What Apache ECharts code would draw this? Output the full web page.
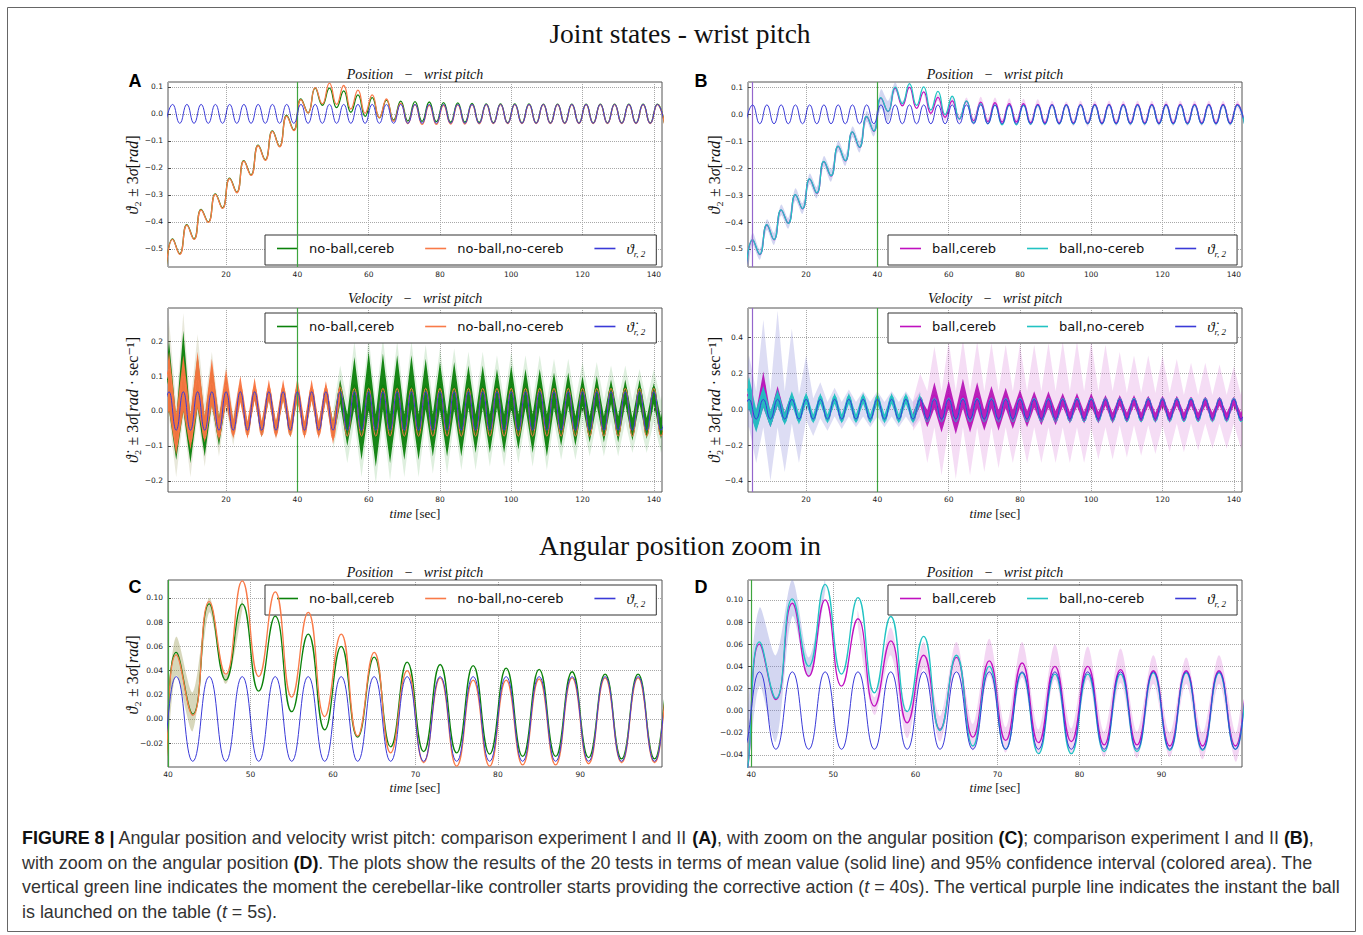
<!DOCTYPE html>
<html>
<head>
<meta charset="utf-8">
<script src="https://cdn.jsdelivr.net/npm/echarts@6/dist/echarts.min.js"></script>
<style>
html, body { margin: 0; padding: 0; background: #fff; }
#fig { width: 1363px; height: 935px; }
</style>
</head>
<body>
<div id="fig"></div>
<script>
// ---------------------------------------------------------------------------
// Joint states of the wrist pitch: mean values and 3-sigma bands.
// Position samples are taken at the extremes of the 4 s reference cycle
// (odd seconds), velocity samples at the velocity extremes (even seconds).
// ---------------------------------------------------------------------------

// event instants [s]
const CEREB_ON = 40;     // cerebellar-like controller switched on
const BALL_LAUNCH = 5;   // ball launched on the table

const REF_POS_NAME = '\u03D1r,2';
const REF_VEL_NAME = '\u03D1\u0307r,2';

// ---- position [rad] -------------------------------------------------------
const T_POS = [3,5,7,9,11,13,15,17,19,21, 23,25,27,29,31,33,35,37,39,41,
  43,45,47,49,51,53,55,57,59,61, 63,65,67,69,71,73,75,77,79,81,
  83,85,87,89,91,93,95,97,99,101, 103,105,107,109,111,113,115,117,119,121,
  123,125,127,129,131,133,135,137,139,141, 143];

const REF_POS = [
  -0.035,0.035,-0.035,0.035,-0.035,0.035,-0.035,0.035,-0.035,0.035,
  -0.035,0.035,-0.035,0.035,-0.035,0.035,-0.035,0.035,-0.035,0.035,
  -0.035,0.035,-0.035,0.035,-0.035,0.035,-0.035,0.035,-0.035,0.035,
  -0.035,0.035,-0.035,0.035,-0.035,0.035,-0.035,0.035,-0.035,0.035,
  -0.035,0.035,-0.035,0.035,-0.035,0.035,-0.035,0.035,-0.035,0.035,
  -0.035,0.035,-0.035,0.035,-0.035,0.035,-0.035,0.035,-0.035,0.035,
  -0.035,0.035,-0.035,0.035,-0.035,0.035,-0.035,0.035,-0.035,0.035,
  -0.035];

const NB_CEREB_POS = [
  -0.600,-0.463,-0.518,-0.410,-0.463,-0.354,-0.400,-0.296,-0.348,-0.238,
  -0.290,-0.173,-0.226,-0.116,-0.170,-0.063,-0.120,-0.006,-0.060,0.055,
  0.004,0.095,0.032,0.095,0.023,0.085,0.006,0.070,-0.009,0.060,
  -0.015,0.051,-0.023,0.047,-0.027,0.045,-0.028,0.044,-0.029,0.042,
  -0.031,0.041,-0.031,0.039,-0.032,0.037,-0.033,0.037,-0.033,0.037,
  -0.033,0.037,-0.034,0.036,-0.034,0.036,-0.034,0.036,-0.034,0.036,
  -0.034,0.036,-0.034,0.036,-0.034,0.036,-0.034,0.036,-0.034,0.036,
  -0.034];

const NB_NOCEREB_POS = [
  -0.600,-0.465,-0.520,-0.412,-0.465,-0.356,-0.402,-0.298,-0.350,-0.240,
  -0.292,-0.175,-0.228,-0.118,-0.172,-0.065,-0.122,-0.008,-0.062,0.053,
  0.003,0.097,0.037,0.114,0.035,0.105,0.018,0.088,0.002,0.070,
  -0.014,0.055,-0.028,0.040,-0.036,0.034,-0.039,0.032,-0.039,0.032,
  -0.038,0.033,-0.038,0.034,-0.037,0.034,-0.036,0.034,-0.036,0.034,
  -0.036,0.034,-0.036,0.034,-0.036,0.034,-0.036,0.034,-0.036,0.034,
  -0.036,0.034,-0.036,0.034,-0.036,0.034,-0.036,0.034,-0.036,0.034,
  -0.036];

const B_CEREB_POS = [
  -0.600,-0.466,-0.521,-0.411,-0.466,-0.356,-0.404,-0.299,-0.351,-0.241,
  -0.293,-0.176,-0.229,-0.119,-0.173,-0.066,-0.123,-0.009,-0.063,0.060,
  0.010,0.097,0.031,0.100,0.022,0.083,0.004,0.063,-0.011,0.050,
  -0.017,0.048,-0.024,0.045,-0.027,0.043,-0.029,0.040,-0.028,0.040,
  -0.031,0.037,-0.031,0.036,-0.032,0.036,-0.032,0.036,-0.032,0.037,
  -0.032,0.037,-0.032,0.037,-0.032,0.037,-0.032,0.037,-0.032,0.037,
  -0.032,0.037,-0.032,0.037,-0.032,0.037,-0.032,0.037,-0.032,0.037,
  -0.032];

const B_NOCEREB_POS = [
  -0.600,-0.465,-0.520,-0.410,-0.465,-0.355,-0.405,-0.298,-0.350,-0.240,
  -0.292,-0.175,-0.228,-0.118,-0.172,-0.065,-0.122,-0.008,-0.062,0.062,
  0.011,0.101,0.040,0.114,0.033,0.102,0.016,0.085,-0.001,0.067,
  -0.018,0.050,-0.032,0.040,-0.035,0.034,-0.039,0.033,-0.039,0.033,
  -0.037,0.033,-0.037,0.034,-0.036,0.034,-0.036,0.034,-0.035,0.034,
  -0.036,0.034,-0.036,0.034,-0.036,0.034,-0.036,0.034,-0.036,0.034,
  -0.036,0.034,-0.036,0.034,-0.036,0.034,-0.036,0.034,-0.036,0.034,
  -0.036];

// confidence bands (position)
const T_LAV_POS = [3,5,7,9,11,13,15,17,19,21, 23,25,27,29,31,33,35,37,39,41, 43,45,47,49];
const LAV_POS_LO = [-0.620,-0.485,-0.540,-0.430,-0.485,-0.375,-0.425,-0.320,-0.370,-0.260,
  -0.312,-0.195,-0.250,-0.138,-0.192,-0.085,-0.142,-0.028,-0.082,0.022,
  -0.028,0.085,0.030,0.108];
const LAV_POS_HI = [-0.580,-0.440,-0.500,-0.390,-0.440,-0.335,-0.385,-0.275,-0.330,-0.220,
  -0.270,-0.155,-0.205,-0.098,-0.150,-0.045,-0.100,0.012,-0.040,0.093,
  0.050,0.118,0.048,0.120];

const T_PINK_POS = [53,55,57,59,61,63,65,67,69,71, 73,75,77,79,81,83,85,87,89,91,
  93,95,97,99,101,103,105,107,109,111, 113,115,117,119,121,123,125,127,129,131,
  133,135,137,139,141,143];
const PINK_POS_HI = [0.090,0.012,0.075,0.000,0.062,-0.005,0.062,-0.012,0.065,-0.015,
  0.062,-0.017,0.060,-0.016,0.058,-0.019,0.056,-0.019,0.050,-0.020,
  0.048,-0.020,0.050,-0.020,0.050,-0.020,0.050,-0.020,0.050,-0.020,
  0.050,-0.020,0.050,-0.020,0.050,-0.020,0.050,-0.020,0.050,-0.020,
  0.050,-0.020,0.050,-0.020,0.050,-0.020];
const PINK_POS_LO = [0.075,-0.004,0.050,-0.025,0.038,-0.028,0.036,-0.036,0.032,-0.038,
  0.030,-0.040,0.028,-0.040,0.028,-0.042,0.025,-0.043,0.024,-0.042,
  0.024,-0.044,0.024,-0.046,0.024,-0.044,0.024,-0.044,0.024,-0.044,
  0.024,-0.044,0.024,-0.044,0.024,-0.044,0.024,-0.044,0.024,-0.044,
  0.024,-0.044,0.024,-0.044,0.024,-0.044];

const T_OLIVE_POS = [39,41,43,45,47,49];
const OLIVE_POS_LO = [-0.070,0.036,-0.010,0.088,0.029,0.090];
const OLIVE_POS_HI = [-0.050,0.068,0.022,0.100,0.036,0.100];

// ---- velocity [rad/s] -----------------------------------------------------
const T_VEL = [2,4,6,8,10,12,14,16,18,20, 22,24,26,28,30,32,34,36,38,40,
  42,44,46,48,50,52,54,56,58,60, 62,64,66,68,70,72,74,76,78,80,
  82,84,86,88,90,92,94,96,98,100, 102,104,106,108,110,112,114,116,118,120,
  122,124,126,128,130,132,134,136,138,140, 142,144];

const REF_VEL = [
  -0.055,0.055,-0.055,0.055,-0.055,0.055,-0.055,0.055,-0.055,0.055,
  -0.055,0.055,-0.055,0.055,-0.055,0.055,-0.055,0.055,-0.055,0.055,
  -0.055,0.055,-0.055,0.055,-0.055,0.055,-0.055,0.055,-0.055,0.055,
  -0.055,0.055,-0.055,0.055,-0.055,0.055,-0.055,0.055,-0.055,0.055,
  -0.055,0.055,-0.055,0.055,-0.055,0.055,-0.055,0.055,-0.055,0.055,
  -0.055,0.055,-0.055,0.055,-0.055,0.055,-0.055,0.055,-0.055,0.055,
  -0.055,0.055,-0.055,0.055,-0.055,0.055,-0.055,0.055,-0.055,0.055,
  -0.055,0.055];

const NB_CEREB_VEL = [
  -0.040,0.100,-0.090,0.120,-0.100,0.090,-0.080,0.075,-0.070,0.065,
  -0.062,0.060,-0.060,0.060,-0.060,0.060,-0.060,0.060,-0.060,0.060,
  -0.060,0.060,-0.060,0.060,-0.065,0.065,-0.070,0.075,-0.075,0.075,
  -0.075,0.075,-0.075,0.075,-0.075,0.072,-0.072,0.072,-0.072,0.070,
  -0.070,0.070,-0.070,0.070,-0.070,0.070,-0.070,0.070,-0.070,0.070,
  -0.070,0.070,-0.070,0.070,-0.070,0.070,-0.070,0.070,-0.070,0.070,
  -0.070,0.070,-0.070,0.070,-0.070,0.070,-0.070,0.070,-0.070,0.070,
  -0.070,0.070];

const NB_NOCEREB_VEL = [
  -0.050,0.120,-0.100,0.100,-0.090,0.090,-0.080,0.080,-0.075,0.075,
  -0.070,0.070,-0.070,0.068,-0.070,0.068,-0.070,0.068,-0.070,0.068,
  -0.070,0.068,-0.070,0.068,-0.080,0.068,-0.072,0.065,-0.072,0.065,
  -0.072,0.065,-0.072,0.065,-0.072,0.065,-0.072,0.065,-0.072,0.065,
  -0.072,0.065,-0.072,0.065,-0.072,0.065,-0.072,0.065,-0.072,0.065,
  -0.072,0.065,-0.072,0.065,-0.072,0.065,-0.072,0.065,-0.072,0.065,
  -0.072,0.065,-0.072,0.065,-0.072,0.065,-0.072,0.065,-0.072,0.065,
  -0.072,0.065];

const B_CEREB_VEL = [
  -0.040,0.090,-0.090,0.150,-0.080,0.090,-0.070,0.070,-0.065,0.065,
  -0.062,0.062,-0.062,0.062,-0.062,0.062,-0.062,0.062,-0.062,0.062,
  -0.062,0.062,-0.062,0.062,-0.065,0.065,-0.070,0.080,-0.075,0.080,
  -0.075,0.075,-0.072,0.072,-0.070,0.070,-0.070,0.070,-0.070,0.070,
  -0.068,0.068,-0.068,0.068,-0.068,0.068,-0.068,0.068,-0.068,0.068,
  -0.066,0.066,-0.066,0.066,-0.066,0.066,-0.066,0.066,-0.066,0.066,
  -0.065,0.065,-0.065,0.065,-0.065,0.065,-0.065,0.065,-0.065,0.065,
  -0.065,0.065];

const B_NOCEREB_VEL = [
  -0.040,0.120,-0.100,0.100,-0.080,0.085,-0.075,0.075,-0.070,0.075,
  -0.070,0.075,-0.070,0.075,-0.070,0.075,-0.070,0.075,-0.070,0.075,
  -0.070,0.075,-0.070,0.075,-0.070,0.070,-0.070,0.062,-0.070,0.062,
  -0.070,0.062,-0.070,0.062,-0.070,0.062,-0.070,0.062,-0.070,0.062,
  -0.070,0.062,-0.070,0.062,-0.070,0.062,-0.070,0.062,-0.070,0.062,
  -0.070,0.062,-0.070,0.062,-0.070,0.062,-0.070,0.062,-0.070,0.062,
  -0.070,0.062,-0.070,0.062,-0.070,0.062,-0.070,0.062,-0.070,0.062,
  -0.070,0.062];

// confidence bands (velocity)
const GREEN_DARK_VEL_HI = [
  -0.010,0.200,-0.020,0.230,-0.020,0.160,-0.020,0.130,-0.020,0.100,
  -0.030,0.075,-0.035,0.075,-0.035,0.075,-0.035,0.075,-0.035,0.075,
  -0.035,0.075,-0.035,0.075,-0.030,0.090,-0.010,0.155,-0.010,0.170,
  -0.010,0.165,-0.010,0.160,-0.010,0.160,-0.010,0.150,-0.010,0.140,
  -0.010,0.140,-0.010,0.130,-0.010,0.130,-0.010,0.120,-0.010,0.130,
  -0.010,0.120,-0.010,0.120,-0.010,0.110,-0.010,0.110,-0.015,0.100,
  -0.015,0.100,-0.015,0.090,-0.015,0.090,-0.020,0.090,-0.020,0.080,
  -0.020,0.080];
const GREEN_DARK_VEL_LO = [
  -0.050,0.000,-0.140,0.000,-0.150,0.010,-0.130,0.020,-0.100,0.030,
  -0.075,0.035,-0.075,0.035,-0.075,0.035,-0.075,0.035,-0.075,0.035,
  -0.075,0.035,-0.075,0.035,-0.085,0.020,-0.100,0.010,-0.140,0.005,
  -0.160,0.005,-0.150,0.005,-0.140,0.005,-0.140,0.005,-0.130,0.005,
  -0.130,0.005,-0.130,0.010,-0.120,0.010,-0.120,0.010,-0.120,0.010,
  -0.110,0.010,-0.120,0.010,-0.130,0.010,-0.100,0.015,-0.100,0.015,
  -0.090,0.015,-0.090,0.020,-0.090,0.020,-0.085,0.020,-0.080,0.020,
  -0.080,0.020];

const T_VEL_LATE = [50,52,54,56,58,60,62,64,66,68, 70,72,74,76,78,80,82,84,86,88,
  90,92,94,96,98,100,102,104,106,108, 110,112,114,116,118,120,122,124,126,128,
  130,132,134,136,138,140,142,144];
const GREEN_LIGHT_VEL_HI = [
  0.000,0.130,0.030,0.200,0.030,0.210,0.030,0.210,0.030,0.200,
  0.030,0.200,0.030,0.190,0.030,0.180,0.030,0.180,0.030,0.170,
  0.030,0.170,0.030,0.160,0.030,0.170,0.030,0.160,0.030,0.160,
  0.030,0.150,0.030,0.150,0.030,0.140,0.030,0.140,0.030,0.130,
  0.030,0.130,0.030,0.120,0.030,0.120,0.030,0.120];
const GREEN_LIGHT_VEL_LO = [
  -0.110,-0.020,-0.150,-0.030,-0.190,-0.030,-0.210,-0.030,-0.200,-0.030,
  -0.190,-0.030,-0.190,-0.030,-0.180,-0.030,-0.180,-0.030,-0.170,-0.030,
  -0.170,-0.030,-0.160,-0.030,-0.160,-0.030,-0.150,-0.030,-0.160,-0.030,
  -0.170,-0.030,-0.140,-0.030,-0.140,-0.030,-0.130,-0.030,-0.130,-0.030,
  -0.130,-0.030,-0.120,-0.030,-0.120,-0.030,-0.120,-0.030];

const T_VEL_EARLY = [2,4,6,8,10,12,14,16,18,20, 22,24];
const KHAKI_VEL_HI = [0.000,0.260,0.020,0.280,0.020,0.220,0.020,0.170,0.000,0.130,-0.010,0.100];
const KHAKI_VEL_LO = [-0.080,-0.020,-0.190,-0.020,-0.190,-0.010,-0.160,0.000,-0.130,0.010,-0.100,0.020];

const T_VEL_FIRST = [2,4,6,8,10,12,14,16,18,20, 22,24,26,28,30,32,34,36,38,40, 42,44,46,48,50,52];
const ORANGE_VEL_HI = [-0.010,0.170,-0.010,0.160,-0.010,0.170,-0.015,0.150,-0.020,0.120,
  -0.025,0.100,-0.030,0.095,-0.030,0.090,-0.030,0.090,-0.030,0.095,
  -0.030,0.090,-0.030,0.085,-0.030,0.080];
const ORANGE_VEL_LO = [-0.050,0.000,-0.125,0.000,-0.110,0.010,-0.090,0.015,-0.085,0.020,
  -0.080,0.025,-0.080,0.030,-0.075,0.030,-0.080,0.030,-0.075,0.030,
  -0.080,0.030,-0.080,0.030,-0.095,0.030];

const LAV_VEL_HI = [0.050,0.300,0.100,0.500,0.100,0.550,0.100,0.450,0.080,0.300,
  0.060,0.150,0.040,0.120,0.040,0.110,0.040,0.100,0.040,0.100,
  0.040,0.100,0.040,0.100,0.040,0.100];
const LAV_VEL_LO = [-0.100,-0.100,-0.300,-0.100,-0.400,-0.100,-0.350,-0.080,-0.300,-0.060,
  -0.150,-0.050,-0.120,-0.040,-0.110,-0.040,-0.100,-0.040,-0.100,-0.040,
  -0.100,-0.040,-0.100,-0.040,-0.100,-0.040];

const CYAN_VEL_HI = [0.000,0.180,0.000,0.130,-0.010,0.110,-0.020,0.100,-0.025,0.095,
  -0.030,0.090,-0.030,0.090,-0.030,0.090,-0.030,0.090,-0.030,0.090,
  -0.030,0.090,-0.030,0.090,-0.030,0.090];
const CYAN_VEL_LO = [-0.060,0.000,-0.130,0.010,-0.100,0.020,-0.090,0.025,-0.085,0.030,
  -0.080,0.030,-0.080,0.030,-0.080,0.030,-0.080,0.030,-0.080,0.030,
  -0.080,0.030,-0.080,0.030,-0.080,0.030];

const T_MAG_EARLY = [2,4,6,8,10,12,14,16];
const MAG_EARLY_HI = [-0.010,0.120,-0.010,0.210,-0.020,0.130,-0.020,0.090];
const MAG_EARLY_LO = [-0.050,0.000,-0.120,0.010,-0.100,0.020,-0.080,0.030];

const MAG_LATE_HI = [
  -0.020,0.070,-0.005,0.150,-0.005,0.160,-0.005,0.170,-0.005,0.150,
  -0.005,0.130,-0.005,0.120,-0.005,0.110,-0.010,0.100,-0.010,0.100,
  -0.010,0.090,-0.015,0.090,-0.015,0.090,-0.015,0.080,-0.020,0.080,
  -0.020,0.080,-0.020,0.075,-0.020,0.075,-0.020,0.075,-0.020,0.070,
  -0.020,0.070,-0.020,0.070,-0.020,0.065,-0.020,0.065];
const MAG_LATE_LO = [
  -0.070,0.020,-0.100,0.005,-0.130,0.005,-0.140,0.005,-0.130,0.005,
  -0.120,0.005,-0.120,0.005,-0.110,0.010,-0.100,0.010,-0.090,0.010,
  -0.090,0.015,-0.080,0.015,-0.080,0.015,-0.080,0.020,-0.080,0.020,
  -0.075,0.020,-0.075,0.020,-0.075,0.020,-0.075,0.020,-0.070,0.020,
  -0.070,0.020,-0.070,0.020,-0.070,0.020,-0.070,0.020];

const PINK_VEL_HI = [
  0.050,0.200,0.100,0.350,0.100,0.380,0.100,0.390,0.100,0.380,
  0.100,0.370,0.100,0.360,0.100,0.360,0.100,0.360,0.100,0.370,
  0.100,0.380,0.100,0.380,0.100,0.380,0.100,0.360,0.100,0.320,
  0.090,0.300,0.090,0.300,0.090,0.300,0.090,0.280,0.080,0.260,
  0.080,0.260,0.080,0.250,0.080,0.240,0.080,0.240];
const PINK_VEL_LO = [
  -0.120,-0.060,-0.300,-0.100,-0.370,-0.100,-0.390,-0.100,-0.370,-0.100,
  -0.350,-0.100,-0.330,-0.100,-0.300,-0.100,-0.300,-0.100,-0.300,-0.100,
  -0.300,-0.100,-0.300,-0.100,-0.300,-0.100,-0.280,-0.100,-0.280,-0.090,
  -0.270,-0.090,-0.260,-0.090,-0.250,-0.090,-0.240,-0.080,-0.240,-0.080,
  -0.230,-0.080,-0.220,-0.080,-0.220,-0.080,-0.220,-0.080];

// ---------------------------------------------------------------------------
// styling
const GREEN = '#0b820b';
const ORANGE = '#f97a48';
const BLUE = '#3a3ad8';
const MAGENTA = '#c010c0';
const CYAN = '#22c3c3';
const V_GREEN = '#3ea53e';
const V_PURPLE = '#9466cc';
const FONT_SANS = '"DejaVu Sans", sans-serif';
const FONT_SERIF = '"Liberation Serif", "DejaVu Serif", serif';
const FONT_CAPTION = '"Liberation Sans", Arial, sans-serif';

const zip = (ts, vs) => ts.map((t, i) => [t, vs[i]]);

function lineSeries(g, name, ts, vs, color, width, z) {
  return {
    type: 'line', name, xAxisIndex: g, yAxisIndex: g, data: zip(ts, vs),
    symbol: 'none', showSymbol: false, smooth: true,
    lineStyle: { color, width }, itemStyle: { color }, z, silent: true
  };
}

// Sutherland-Hodgman clipping of a pixel polygon against the plot rectangle
function clipToRect(pts, x0, y0, x1, y1) {
  const lerpX = (a, b, x) => [x, a[1] + (x - a[0]) / (b[0] - a[0]) * (b[1] - a[1])];
  const lerpY = (a, b, y) => [a[0] + (y - a[1]) / (b[1] - a[1]) * (b[0] - a[0]), y];
  const planes = [
    [p => p[0] >= x0, (a, b) => lerpX(a, b, x0)],
    [p => p[0] <= x1, (a, b) => lerpX(a, b, x1)],
    [p => p[1] >= y0, (a, b) => lerpY(a, b, y0)],
    [p => p[1] <= y1, (a, b) => lerpY(a, b, y1)]
  ];
  let out = pts;
  for (const [inside, cut] of planes) {
    const src = out;
    out = [];
    for (let i = 0; i < src.length; i++) {
      const cur = src[i], prev = src[(i + src.length - 1) % src.length];
      if (inside(cur)) {
        if (!inside(prev)) out.push(cut(prev, cur));
        out.push(cur);
      } else if (inside(prev)) {
        out.push(cut(prev, cur));
      }
    }
    if (!out.length) break;
  }
  return out;
}

// shaded band between a lower and an upper curve, drawn as one polygon
function bandSeries(g, ts, lo, hi, color, z, smooth) {
  const rows = ts.map((t, i) => [t, lo[i], hi[i]]);
  return {
    type: 'custom', xAxisIndex: g, yAxisIndex: g, z, silent: true, clip: true,
    data: rows, encode: { x: 0, y: [1, 2] },
    renderItem(params, api) {
      if (params.dataIndex !== 0) return null;
      const cs = params.coordSys;
      const upper = rows.map(r => api.coord([r[0], r[2]]));
      const lower = rows.map(r => api.coord([r[0], r[1]])).reverse();
      const pts = clipToRect(upper.concat(lower), cs.x, cs.y, cs.x + cs.width, cs.y + cs.height);
      if (pts.length < 3) return null;
      return {
        type: 'polygon',
        shape: {
          points: pts, smooth: smooth ? 0.3 : 0,
          smoothConstraint: [[cs.x, cs.y], [cs.x + cs.width, cs.y + cs.height]]
        },
        style: { fill: color, stroke: null }
      };
    }
  };
}

function eventLines(times) {
  return {
    silent: true, symbol: ['none', 'none'], label: { show: false },
    emphasis: { disabled: true },
    data: times.map(([t, c]) => ({ xAxis: t, lineStyle: { color: c, width: 1.2, type: 'solid' } }))
  };
}

function withEvents(s, times) { s.markLine = eventLines(times); return s; }

function fmtTick(dec) {
  return v => {
    if (Math.abs(v) < 1e-9) v = 0;
    return v.toFixed(dec).replace('-', '\u2212');
  };
}

function xAxisCfg(g, min, max, split, showMin) {
  return {
    type: 'value', gridIndex: g, min, max, splitNumber: split,
    axisLine: { show: false },
    axisTick: { show: true, inside: true, length: 3, lineStyle: { color: '#444' } },
    splitLine: { show: true, lineStyle: { color: '#a8a8a8', type: 'dotted', width: 1 } },
    axisLabel: {
      fontFamily: FONT_SANS, fontSize: 7.5, color: '#222', margin: 3,
      showMinLabel: showMin, showMaxLabel: false, formatter: v => String(Math.round(v))
    }
  };
}
function yAxisCfg(g, min, max, split, dec) {
  return {
    type: 'value', gridIndex: g, min, max, splitNumber: split,
    axisLine: { show: false },
    axisTick: { show: true, inside: true, length: 3, lineStyle: { color: '#444' } },
    splitLine: { show: true, lineStyle: { color: '#a8a8a8', type: 'dotted', width: 1 } },
    axisLabel: {
      fontFamily: FONT_SANS, fontSize: 7.5, color: '#222', margin: 5,
      showMinLabel: false, showMaxLabel: false, formatter: fmtTick(dec)
    }
  };
}

function gridCfg(left, top, width, height) {
  return { left, top, width, height, show: true, borderColor: '#555', borderWidth: 1, backgroundColor: '#fff' };
}

function legendCfg(left, top, names) {
  return {
    show: true, left, top, orient: 'horizontal', data: names, selectedMode: false,
    backgroundColor: '#fff', borderColor: '#333', borderWidth: 1, borderRadius: 0,
    padding: [6, 11, 6, 12], itemGap: 31, itemWidth: 21, itemHeight: 1.6, icon: 'rect',
    textStyle: {
      fontFamily: FONT_SANS, fontSize: 13, color: '#111', padding: [0, 0, 0, 6],
      rich: {
        v: { fontFamily: FONT_SERIF, fontStyle: 'italic', fontSize: 15, lineHeight: 16, color: '#111' },
        s: { fontFamily: FONT_SERIF, fontStyle: 'italic', fontSize: 9, lineHeight: 21, verticalAlign: 'bottom', color: '#111' }
      }
    },
    formatter: name => name === REF_POS_NAME ? '{v|\u03D1}{s|r, 2}'
      : name === REF_VEL_NAME ? '{v|\u03D1\u0307}{s|r, 2}' : name
  };
}

// ---------------------------------------------------------------------------
// series
const series = [];

// A: position, no ball
series.push(lineSeries(0, 'no-ball,cereb', T_POS, NB_CEREB_POS, GREEN, 1.3, 3));
series.push(lineSeries(0, 'no-ball,no-cereb', T_POS, NB_NOCEREB_POS, ORANGE, 1.3, 4));
series.push(withEvents(lineSeries(0, REF_POS_NAME, T_POS, REF_POS, BLUE, 1, 5), [[CEREB_ON, V_GREEN]]));

// B: position, ball
series.push(bandSeries(1, T_LAV_POS, LAV_POS_LO, LAV_POS_HI, 'rgba(110,120,210,0.30)', 1, true));
series.push(bandSeries(1, T_PINK_POS, PINK_POS_LO, PINK_POS_HI, 'rgba(215,120,215,0.30)', 1, true));
series.push(lineSeries(1, 'ball,cereb', T_POS, B_CEREB_POS, MAGENTA, 1.3, 3));
series.push(lineSeries(1, 'ball,no-cereb', T_POS, B_NOCEREB_POS, CYAN, 1.3, 4));
series.push(withEvents(lineSeries(1, REF_POS_NAME, T_POS, REF_POS, BLUE, 1, 5),
  [[BALL_LAUNCH, V_PURPLE], [CEREB_ON, V_GREEN]]));

// A: velocity, no ball
series.push(bandSeries(2, T_VEL_EARLY, KHAKI_VEL_LO, KHAKI_VEL_HI, 'rgba(150,150,90,0.22)', 1));
series.push(bandSeries(2, T_VEL_LATE, GREEN_LIGHT_VEL_LO, GREEN_LIGHT_VEL_HI, 'rgba(0,128,0,0.13)', 1));
series.push(bandSeries(2, T_VEL, GREEN_DARK_VEL_LO, GREEN_DARK_VEL_HI, 'rgba(11,128,11,0.95)', 2));
series.push(lineSeries(2, 'no-ball,cereb', T_VEL, NB_CEREB_VEL, GREEN, 1, 2));
series.push(bandSeries(2, T_VEL_FIRST, ORANGE_VEL_LO, ORANGE_VEL_HI, 'rgba(251,116,64,0.95)', 3));
series.push(lineSeries(2, 'no-ball,no-cereb', T_VEL, NB_NOCEREB_VEL, ORANGE, 1, 4));
series.push(withEvents(lineSeries(2, REF_VEL_NAME, T_VEL, REF_VEL, BLUE, 1, 5), [[CEREB_ON, V_GREEN]]));

// B: velocity, ball
series.push(bandSeries(3, T_VEL_FIRST, LAV_VEL_LO, LAV_VEL_HI, 'rgba(120,120,210,0.25)', 1));
series.push(bandSeries(3, T_VEL_LATE, PINK_VEL_LO, PINK_VEL_HI, 'rgba(210,100,210,0.22)', 1));
series.push(bandSeries(3, T_MAG_EARLY, MAG_EARLY_LO, MAG_EARLY_HI, 'rgba(180,12,180,0.9)', 2));
series.push(bandSeries(3, T_VEL_LATE, MAG_LATE_LO, MAG_LATE_HI, 'rgba(180,12,180,0.9)', 2));
series.push(lineSeries(3, 'ball,cereb', T_VEL, B_CEREB_VEL, MAGENTA, 1, 2));
series.push(bandSeries(3, T_VEL_FIRST, CYAN_VEL_LO, CYAN_VEL_HI, 'rgba(32,192,192,0.95)', 3));
series.push(lineSeries(3, 'ball,no-cereb', T_VEL, B_NOCEREB_VEL, CYAN, 1, 4));
series.push(withEvents(lineSeries(3, REF_VEL_NAME, T_VEL, REF_VEL, BLUE, 1, 5),
  [[BALL_LAUNCH, V_PURPLE], [CEREB_ON, V_GREEN]]));

// C: position zoom, no ball
series.push(bandSeries(4, T_OLIVE_POS, OLIVE_POS_LO, OLIVE_POS_HI, 'rgba(140,140,60,0.35)', 1, true));
series.push(lineSeries(4, 'no-ball,cereb', T_POS, NB_CEREB_POS, GREEN, 1.3, 3));
series.push(lineSeries(4, 'no-ball,no-cereb', T_POS, NB_NOCEREB_POS, ORANGE, 1.3, 4));
series.push(withEvents(lineSeries(4, REF_POS_NAME, T_POS, REF_POS, BLUE, 1, 5), [[CEREB_ON, V_GREEN]]));

// D: position zoom, ball
series.push(bandSeries(5, T_LAV_POS, LAV_POS_LO, LAV_POS_HI, 'rgba(110,120,210,0.30)', 1, true));
series.push(bandSeries(5, T_PINK_POS, PINK_POS_LO, PINK_POS_HI, 'rgba(215,120,215,0.30)', 1, true));
series.push(lineSeries(5, 'ball,cereb', T_POS, B_CEREB_POS, MAGENTA, 1.3, 3));
series.push(lineSeries(5, 'ball,no-cereb', T_POS, B_NOCEREB_POS, CYAN, 1.3, 4));
series.push(withEvents(lineSeries(5, REF_POS_NAME, T_POS, REF_POS, BLUE, 1, 5), [[CEREB_ON, V_GREEN]]));

// ---------------------------------------------------------------------------
// text
const serifText = (x, y, text, size, extra) => ({
  type: 'text', x, y, silent: true,
  style: Object.assign({
    text, fill: '#111', fontFamily: FONT_SERIF, fontSize: size,
    align: 'center', verticalAlign: 'middle', textAlign: 'center', textVerticalAlign: 'middle'
  }, extra || {})
});
const italicRich = {
  i: { fontFamily: FONT_SERIF, fontStyle: 'italic', fontSize: 16, fill: '#111' }
};
const yLabel = (x, y, text) => Object.assign(serifText(x, y, text, 16, { rich: italicRich }), { rotation: Math.PI / 2 });
const timeLabel = (x, y) => serifText(x, y, '{t|time} [sec]', 13, {
  rich: { t: { fontFamily: FONT_SERIF, fontStyle: 'italic', fontSize: 13, fill: '#111' } }
});
const panelTitle = (x, y, word) => serifText(x, y, word + '   \u2212   wrist pitch', 14, { fontStyle: 'italic' });
const letter = (x, y, s) => ({
  type: 'text', x, y, silent: true,
  style: { text: s, fill: '#000', fontFamily: FONT_CAPTION, fontWeight: 'bold',
    fontSize: 18, align: 'center', verticalAlign: 'middle', textAlign: 'center', textVerticalAlign: 'middle' }
});

const POS_LABEL = '{i|\u03D1}\u2082 \u00B1 3{i|\u03C3}[{i|rad}]';
const VEL_LABEL = '{i|\u03D1\u0307}\u2082 \u00B1 3{i|\u03C3}[{i|rad} \u00B7 sec\u207B\u00B9]';

const CAPTION = [
  '{b|FIGURE 8 |} Angular position and velocity wrist pitch: comparison experiment I and II {b|(A)}, with zoom on the angular position {b|(C)}; comparison experiment I and II {b|(B)},',
  'with zoom on the angular position {b|(D)}. The plots show the results of the 20 tests in terms of mean value (solid line) and 95% confidence interval (colored area). The',
  'vertical green line indicates the moment the cerebellar-like controller starts providing the corrective action ({i|t} = 40s). The vertical purple line indicates the instant the ball',
  'is launched on the table ({i|t} = 5s).'
];
const CAPTION_SIZE = 17.9;
const captionRich = {
  b: { fontFamily: FONT_CAPTION, fontWeight: 'bold', fontSize: CAPTION_SIZE, fill: '#111' },
  i: { fontFamily: FONT_CAPTION, fontStyle: 'italic', fontSize: CAPTION_SIZE, fill: '#333' }
};
const captionLines = CAPTION.map((line, k) => ({
  type: 'text', x: 22, y: 838 + k * 24.7, silent: true,
  style: {
    text: line, fill: '#333', fontFamily: FONT_CAPTION, fontSize: CAPTION_SIZE,
    align: 'left', verticalAlign: 'middle', textAlign: 'left', textVerticalAlign: 'middle', rich: captionRich
  }
}));

const graphics = [
  { type: 'rect', silent: true, z: -10, shape: { x: 7.5, y: 7.5, width: 1348, height: 924 },
    style: { fill: 'none', stroke: '#666', lineWidth: 1 } },
  serifText(680, 33, 'Joint states - wrist pitch', 27.5),
  serifText(680, 545, 'Angular position zoom in', 27.5),
  letter(135, 81, 'A'), letter(701, 81, 'B'), letter(135, 587, 'C'), letter(701, 587, 'D'),
  panelTitle(415, 74, 'Position'), panelTitle(995, 74, 'Position'),
  panelTitle(415, 298, 'Velocity'), panelTitle(995, 298, 'Velocity'),
  panelTitle(415, 572, 'Position'), panelTitle(995, 572, 'Position'),
  yLabel(132, 175, POS_LABEL), yLabel(714, 175, POS_LABEL),
  yLabel(132, 400, VEL_LABEL), yLabel(714, 400, VEL_LABEL),
  yLabel(132, 675, POS_LABEL),
  timeLabel(415, 513), timeLabel(995, 513), timeLabel(415, 787), timeLabel(995, 787),
  ...captionLines
];

// ---------------------------------------------------------------------------
const option = {
  animation: false,
  backgroundColor: '#fff',
  textStyle: { fontFamily: FONT_SANS },
  grid: [
    gridCfg(168, 82, 494, 185),
    gridCfg(748, 82, 494, 185),
    gridCfg(168, 308, 494, 184),
    gridCfg(748, 308, 494, 184),
    gridCfg(168, 580, 494, 187),
    gridCfg(748, 580, 494, 187)
  ],
  xAxis: [
    xAxisCfg(0, 3.7, 142.3, 7, false),
    xAxisCfg(1, 3.7, 142.3, 7, false),
    xAxisCfg(2, 3.7, 142.3, 7, false),
    xAxisCfg(3, 3.7, 142.3, 7, false),
    xAxisCfg(4, 40, 99.9, 6, true),
    xAxisCfg(5, 39.6, 99.8, 6, false)
  ],
  yAxis: [
    yAxisCfg(0, -0.567, 0.118, 7, 1),
    yAxisCfg(1, -0.567, 0.12, 7, 1),
    yAxisCfg(2, -0.232, 0.295, 5, 1),
    yAxisCfg(3, -0.462, 0.565, 5, 1),
    yAxisCfg(4, -0.0397, 0.1148, 8, 2),
    yAxisCfg(5, -0.051, 0.118, 8, 2)
  ],
  legend: [
    legendCfg(265, 235, ['no-ball,cereb', 'no-ball,no-cereb', REF_POS_NAME]),
    legendCfg(888, 235, ['ball,cereb', 'ball,no-cereb', REF_POS_NAME]),
    legendCfg(265, 313, ['no-ball,cereb', 'no-ball,no-cereb', REF_VEL_NAME]),
    legendCfg(888, 313, ['ball,cereb', 'ball,no-cereb', REF_VEL_NAME]),
    legendCfg(265, 585, ['no-ball,cereb', 'no-ball,no-cereb', REF_POS_NAME]),
    legendCfg(888, 585, ['ball,cereb', 'ball,no-cereb', REF_POS_NAME])
  ],
  graphic: graphics,
  series
};

const chart = echarts.init(document.getElementById('fig'), null, { renderer: 'svg', width: 1363, height: 935 });
chart.setOption(option);
</script>
</body>
</html>
